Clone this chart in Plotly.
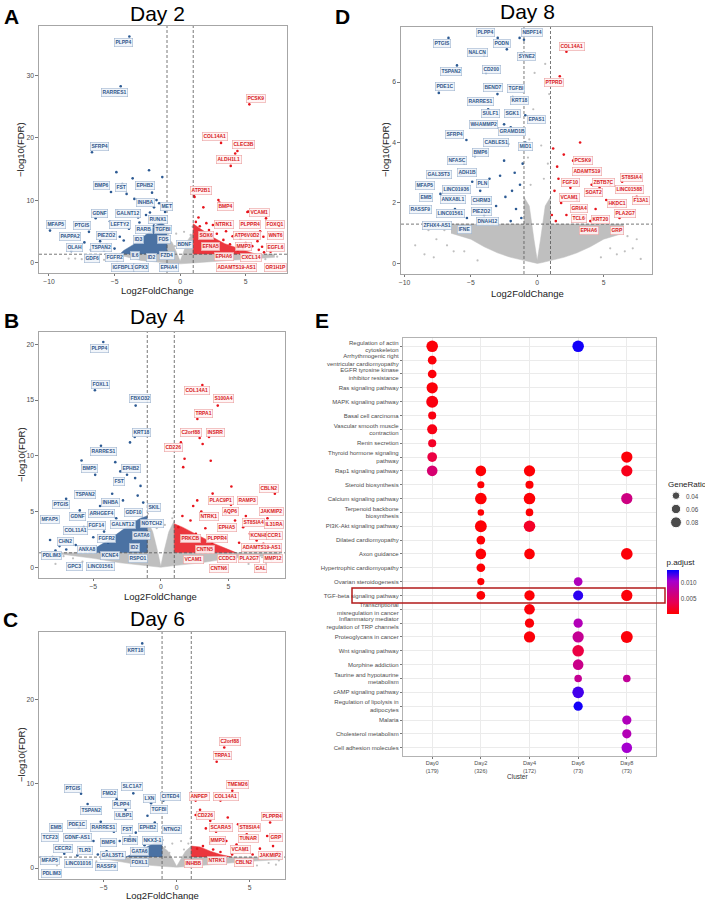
import plotly.graph_objects as go
import math

# ---------------- Panel A (Day 2) ----------------
A_dn_x = [-3.87,-4.53,-6.72,-4.86,-3.62,-2.37,-1.36,-2.14,-4.08,-4.41,-5.27,-3.49,-1.99,-4.79,-1.15,-9.92,-6.44,-5.35,-6.95,-3.1,-2.6,-1.6,-7.3,-6.1,-5.6,-5.0,-4.6,-3.9,-6.8,-8.3,-7.7,-5.8,-4.3,-3.2,-2.3,-1.8,-1.3,-2.0,-5.2]
A_dn_y = [36.3,28.3,17.7,14.5,13.5,14.8,13.7,11.2,11.0,12.6,11.3,10.2,8.84,8.3,8.1,5.1,7.1,6.6,4.9,6.4,7.6,9.5,3.2,3.4,2.8,2.2,4.1,5.4,2.0,1.8,2.5,1.9,3.5,7.2,8.0,10.0,6.9,5.9,4.8]
A_up_x = [5.28,3.12,4.37,4.2,3.86,1.06,1.1,2.92,3.0,1.77,5.13,5.2,6.55,5.69,6.35,6.25,6.9,1.2,1.5,2.5,3.5,4.0,4.6,5.0,5.5,6.0,6.4,3.8,4.8,2.8,2.2,1.4,3.3,4.4,5.9,6.1,2.0]
A_up_y = [25.4,19.2,17.9,17.5,15.5,10.66,10.5,10.0,9.6,8.84,8.1,8.15,7.07,4.66,4.12,2.5,1.7,6.5,5.8,6.0,5.0,4.2,3.8,3.1,2.6,2.0,1.6,2.9,2.2,4.6,5.2,7.2,3.6,1.9,3.4,5.0,6.3]
A_ns_x = [-8.0,-8.5,-7.5,-6.2,-5.4,7.4,-0.4,0.5,0.8,-0.8,-7.0,-6.5,-5.8,-5.0,-4.8,5.8,6.5,7.0,-3.8,4.5,-0.3,0.3,-0.9,0.95]
A_ns_y = [0.6,0.6,0.5,0.9,1.0,0.9,2.6,3.0,4.4,3.6,0.3,0.7,0.4,0.8,0.2,0.3,0.5,1.1,1.2,1.1,4.6,4.9,4.6,5.7]
A_grey_x = [-4.5,-3,-1,0,1,3,5,7.2,7.2,1,1,0.6,0.25,0,-0.25,-0.6,-1,-1,-4.5]
A_grey_y = [1.1,0.3,-0.1,-0.25,-0.1,0.2,0.5,0.8,1.3,1.3,4.8,3.6,1.6,0.2,1.5,3.2,4.0,1.3,1.3]
A_dncore_x = [-1,-1,-1.4,-1.9,-2.4,-3.0,-3.6,-4.3,-4.6]
A_dncore_y = [1.3,5.6,6.4,5.9,4.8,3.8,2.8,1.9,1.3]
A_upcore_x = [1,1,1.4,2.0,2.6,3.4,4.3,5.2,5.8]
A_upcore_y = [1.3,6.2,5.6,4.8,3.9,3.0,2.3,1.7,1.3]
A_dn_lab = ["PLPP4","RARRES1","SFRP4","BMP6","FST","EPHB2","INHBA","MET","GDNF","GALNT12","RUNX1","LEFTY2","MFAP5","PTGIS","PIEZO2","RARB","TGFBI","PAPPA2","ID3","FOS","OLAH","TSPAN2","BDNF","GDF6","FGFR2","IL6","ID2","FZD4","IGFBPL1","GPX3","EPHA4"]
A_dn_lab_x = [-4.28,-4.97,-6.16,-6.03,-4.53,-2.65,-2.63,-1.02,-6.11,-3.97,-1.71,-4.58,-9.47,-7.51,-5.65,-2.75,-1.28,-8.37,-3.19,-1.25,-8.09,-6.03,0.32,-6.72,-4.97,-3.44,-2.17,-0.97,-4.38,-2.96,-0.85]
A_dn_lab_y = [35.3,27.3,18.7,12.27,12.0,12.27,9.6,9.05,7.87,7.87,6.96,6.0,6.1,5.9,4.28,5.2,5.2,4.12,3.6,3.6,2.46,2.46,2.79,0.64,0.80,1.07,0.75,1.12,-0.91,-0.91,-0.91]
A_up_lab = ["PCSK9","COL14A1","CLEC3B","ALDH1L1","ATP2B1","BMP4","VCAM1","NTRK1","PLPPR4","FOXQ1","SOX6","ATP6V0D2","WNT6","EFNA5","MMP3","EGFL6","EPHA6","CXCL14","ADAMTS19-AS1","OR1H1P"]
A_up_lab_x = [5.79,2.69,4.85,3.70,1.59,3.45,6.04,3.37,5.33,7.26,1.95,5.08,7.26,2.33,4.80,7.26,3.35,5.38,4.31,7.26]
A_up_lab_y = [26.35,20.2,18.9,16.55,11.6,8.9,8.0,6.0,6.0,6.0,4.34,4.34,4.23,2.57,2.52,2.46,0.86,0.80,-0.91,-0.91]

# ---------------- Panel B (Day 4) ----------------
B_dn_x = [-4.26,-4.88,-1.86,-1.93,-2.28,-4.43,-5.87,-4.86,-3.37,-3.0,-2.5,-1.9,-1.71,-7.01,-8.2,-6.0,-5.2,-4.5,-3.6,-2.8,-1.5,-1.3,-6.6,-5.7,-5.0,-7.5,-7.0,-6.3,-4.2,-3.3,-2.3,-7.8,-5.5,-3.9]
B_dn_y = [20.2,15.87,14.5,11.68,11.2,10.9,9.58,8.29,9.43,8.6,8.3,8.0,6.43,6.14,2.45,5.1,4.7,5.5,6.6,6.0,7.3,5.8,3.3,3.6,2.7,1.9,1.6,2.0,3.2,4.4,5.0,1.5,1.8,2.2]
B_up_x = [3.08,4.22,2.71,1.49,2.88,3.1,3.57,1.76,3.7,1.66,5.23,8.45,3.84,2.7,2.4,3.0,4.0,4.8,5.5,6.1,6.6,7.1,5.8,4.5,3.3,2.2,1.6,1.3,2.6,3.8,6.9,7.6,5.2,6.3,7.9]
B_up_y = [16.35,14.5,13.3,11.2,11.6,11.05,11.68,9.73,9.55,8.98,7.24,6.59,6.61,6.0,5.5,5.0,4.4,4.8,4.2,3.6,3.0,2.4,2.2,2.8,3.5,4.2,4.6,3.6,3.0,2.2,1.9,2.1,5.6,4.6,4.4]
B_ns_x = [-6.5,-7.2,-5.8,7.5,8.2,-0.5,0.6,-0.8,0.85,-7.8,-6.8,-4.5,6.5,7.8,8.5,-0.3,0.3,-0.95,0.95,-8.3]
B_ns_y = [0.8,1.0,0.5,0.9,0.6,2.4,2.9,3.9,4.4,0.3,0.2,0.3,0.3,0.4,1.0,3.5,3.8,4.8,4.9,0.9]
B_grey_x = [-7.5,-5,-3,-1,0,1,3,5,8.8,8.8,1,1,0.6,0.25,0,-0.25,-0.6,-1,-1,-7.5]
B_grey_y = [1.2,0.8,0.4,0.15,0.0,0.15,0.4,0.8,1.1,1.3,1.3,4.2,3.2,1.5,0.1,1.5,3.2,4.2,1.3,1.3]
B_dncore_x = [-1,-1,-1.5,-2.2,-3.0,-3.8,-4.6,-5.4]
B_dncore_y = [1.3,4.6,4.4,3.9,3.2,2.5,1.9,1.3]
B_upcore_x = [1,1,1.6,2.4,3.2,4.0,4.8,5.6]
B_upcore_y = [1.3,3.9,3.6,3.1,2.6,2.1,1.7,1.3]
B_dn_lab = ["PLPP4","FOXL1","FBXO32","KRT18","RARRES1","BMP5","EPHB2","FST","TSPAN2","INHBA","PTGIS","SKIL","GDF10","GDNF","ARHGEF4","MFAP5","FGF14","GALNT12","NOTCH2","COL11A1","GATA6","FGFR2","CHN2","ID2","ANXA8","KCNE4","RSPO1","PDLIM3","GPC3","LINC01561"]
B_dn_lab_x = [-4.56,-4.43,-1.51,-1.46,-4.28,-5.28,-2.2,-3.12,-5.6,-3.72,-7.4,-0.47,-2.0,-6.17,-4.36,-8.2,-4.73,-2.8,-0.62,-6.32,-1.46,-4.04,-7.09,-1.93,-5.43,-3.74,-1.71,-8.07,-6.42,-4.43]
B_dn_lab_y = [19.6,16.35,15.1,12.13,10.42,8.86,8.86,7.66,6.5,5.8,5.62,5.39,4.9,4.6,4.85,4.25,3.71,3.8,3.95,3.29,2.84,2.57,2.3,1.82,1.64,1.08,0.81,1.02,0.05,0.05]
B_up_lab = ["COL14A1","S100A4","TRPA1","C2orf88","INSRR","CD226","CBLN2","PLAC9P1","RAMP3","AQP6","JAKMIP2","NTRK1","ST8SIA4","IL31RA","EPHA5","KCNH8","CCR1","PRKCB","PLPPR4","ADAMTS19-AS1","CNTN5","VCAM1","CCDC3","PLA2G7","MMP12","CNTN6","GAL"]
B_up_lab_x = [2.68,4.68,3.2,2.23,4.04,0.97,8.03,4.44,6.42,5.18,8.23,3.57,6.84,8.39,4.94,7.29,8.45,2.23,4.14,7.44,3.27,2.45,4.94,6.54,8.3,4.31,7.41]
B_up_lab_y = [15.84,15.1,13.8,12.07,12.13,10.75,7.04,5.96,5.96,5.0,5.0,4.58,4.01,3.8,3.56,2.84,2.81,2.57,2.57,1.82,1.64,0.68,0.81,0.81,0.81,-0.12,-0.12]

# ---------------- Panel C (Day 6) ----------------
C_dn_x = [-2.36,-6.55,-2.97,-4.11,-6.1,-1.75,-0.9,-3.5,-2.0,-5.2,-6.7,-4.3,-2.8,-1.5,-7.3,-5.7,-3.9,-3.2,-6.0,-7.7,-8.5,-4.8,-2.2,-3.0,-1.4,-5.4,-6.8]
C_dn_y = [26.65,8.82,8.86,8.15,7.6,7.7,8.0,6.9,6.2,5.5,4.8,4.3,4.2,5.4,3.8,3.2,3.2,3.7,2.4,1.7,1.3,2.0,2.7,2.3,3.6,1.6,1.5]
C_up_x = [3.26,2.74,3.81,1.3,3.0,1.6,1.3,2.3,3.5,4.2,6.4,2.0,2.7,4.8,5.3,6.2,6.6,3.4,4.1,2.3,1.8,5.7,4.6,3.0,6.9,5.2,2.5,1.4,3.8]
C_up_y = [14.3,12.6,9.17,8.0,8.0,6.9,6.3,5.6,6.0,5.2,5.4,4.7,4.3,4.0,3.5,3.8,2.6,3.2,2.8,3.0,2.6,2.3,2.0,1.9,1.8,1.6,2.2,2.3,1.6]
C_ns_x = [-5.5,-6.5,7.0,6.3,-0.5,0.5,-0.8,0.8,-7.5,-8.2,-4.2,5.5,6.8,-0.3,0.3,-0.95,0.95]
C_ns_y = [0.8,0.4,0.9,0.6,1.8,2.2,2.5,2.9,0.6,0.3,0.2,0.3,0.4,2.9,3.2,3.3,3.5]
C_grey_x = [-5,-3,-1,0,1,3,5,7.2,7.2,1,1,0.6,0.25,0,-0.25,-0.6,-1,-1,-5]
C_grey_y = [1.1,0.5,0.2,0.1,0.2,0.5,0.8,1.0,1.3,1.3,2.6,2.0,1.0,0.2,1.0,2.0,2.6,1.3,1.3]
C_dncore_x = [-1,-1,-1.5,-2.1,-2.8,-3.5]
C_dncore_y = [1.3,3.4,3.0,2.4,1.8,1.3]
C_upcore_x = [1,1,1.6,2.3,3.0,3.8]
C_upcore_y = [1.3,2.6,2.5,2.0,1.6,1.3]
C_dn_lab = ["KRT18","PTGIS","SLC1A7","FMO2","LXN","CITED4","PLPP4","TSPAN2","TGFBI","ULBP1","EMB","PDE1C","RARRES1","FST","EPHB2","NTNG2","TCF23","GDNF-AS1","BMP6","FIBIN","NKX3-1","CECR2","TLR3","GATA6","GAL3ST1","MFAP5","LINC01016","FOXL1","RASSF9","PDLIM3"]
C_dn_lab_x = [-2.79,-7.08,-3.04,-4.61,-1.83,-0.39,-3.77,-5.89,-1.23,-3.61,-8.29,-6.81,-4.98,-3.42,-1.95,-0.32,-8.68,-6.78,-4.64,-3.2,-1.67,-7.77,-6.26,-2.58,-4.34,-8.68,-6.71,-2.56,-4.79,-8.56]
C_dn_lab_y = [25.86,9.45,9.64,8.86,8.27,8.46,7.59,6.88,7.0,6.2,4.86,5.14,4.86,4.63,4.86,4.55,3.6,3.64,3.0,3.32,3.32,2.29,2.1,2.02,1.5,0.95,0.59,0.71,0.2,-0.63]
C_up_lab = ["C2orf88","TRPA1","TMEM26","ANPEP","COL14A1","CD226","PLPPR4","SCARA5","ST8SIA4","TUNAR","GRP","MMP3","VCAM1","JAKMIP2","INHBB","NTRK1","CBLN2"]
C_up_lab_x = [3.65,3.15,4.18,1.55,3.38,1.99,6.5,3.03,5.02,4.93,6.8,2.78,4.34,6.44,1.14,2.78,4.63]
C_up_lab_y = [14.98,13.3,9.88,8.54,8.46,6.2,6.09,4.78,4.82,3.56,3.64,3.24,2.25,1.54,0.56,0.95,0.71]

# ---------------- Panel D (Day 8) ----------------
D_dn_x = [-2.98,-1.33,-1.0,-6.69,-2.29,-4.0,-1.2,-6.05,-3.86,-7.42,-3.0,-1.85,-3.7,-2.1,-0.9,-2.5,-2.0,-5.34,-3.5,-2.2,-0.9,-5.5,-4.7,-5.8,-8.0,-7.3,-4.3,-3.6,-2.8,-1.7,-1.3,-2.4,-3.1,-1.6,-1.2,-4.0,-5.3,-6.2,-2.0,-3.5,-1.1,-2.5,-4.9,-1.9]
D_dn_y = [7.46,7.46,7.4,7.46,7.08,6.88,6.95,6.55,6.3,5.64,5.6,5.5,5.1,5.0,4.9,4.6,4.5,4.08,4.0,3.95,4.0,3.3,3.55,2.95,2.6,2.3,2.4,2.8,2.9,3.0,2.6,2.2,1.9,1.8,1.5,1.6,1.5,1.8,1.4,1.4,3.3,3.4,2.7,2.4]
D_up_x = [2.2,1.7,3.23,1.2,2.0,2.7,1.5,3.4,4.1,4.7,5.5,6.4,7.5,2.5,3.0,1.3,1.8,5.9,4.4,2.2,3.6,6.2,1.1,2.8,1.6,5.2,4.0,1.4]
D_up_y = [7.0,6.19,4.0,3.8,3.6,3.4,3.2,3.0,2.6,2.5,2.6,2.7,2.2,2.5,2.1,2.4,2.0,1.9,1.8,1.6,1.5,1.5,1.6,1.8,2.8,2.1,1.4,1.4]
D_ns_x = [-9.2,-8.5,-7.6,-7.0,-6.3,7.8,7.2,6.8,-0.5,0.5,-0.7,0.8,-0.3,0.9,-0.6,0.3,5.5,6.0,-5.5,-8.2,2.5,-2.5,-7.8,-6.8,-4.5,4.8,6.6,7.5,-0.2,0.6]
D_ns_y = [0.6,0.3,0.8,1.1,0.4,0.15,0.5,0.9,2.6,2.8,3.5,3.3,5.1,5.6,4.1,3.9,0.5,0.3,0.4,1.1,1.1,1.1,0.2,0.6,0.1,0.2,0.4,0.8,6.3,6.6]
D_grey_x = [-6.5,-5,-4,-3,-2,-1,-0.3,0,0.3,1,2,3,4,5,6.5,6.5,1,1,0.6,0.25,0,-0.25,-0.6,-1,-1,-6.5]
D_grey_y = [1.0,0.8,0.55,0.35,0.2,0.1,0.02,0.0,0.02,0.1,0.2,0.35,0.55,0.8,1.0,1.3,1.3,2.2,1.9,0.8,0.1,0.8,1.9,2.2,1.3,1.3]
D_dn_lab = ["PLPP4","NBPF14","PTGIS","PODN","NALCN","SYNE2","TSPAN2","CD200","PDE1C","BEND7","TGFBI","RARRES1","KRT18","SULF1","SGK1","EPAS1","WHAMMP2","GRAMD1B","SFRP4","CABLES1","MID1","BMP6","NFASC","ADH1B","GAL3ST3","MFAP5","LINC01936","PLN","EMB","ANXA8L1","CHRM3","RASSF9","LINC01561","PIEZO2","DNAH12","ZFHX4-AS1","IFNE"]
D_dn_lab_x = [-3.91,-0.38,-7.2,-2.63,-4.47,-0.78,-6.5,-3.44,-6.95,-3.34,-1.58,-4.31,-1.33,-3.53,-1.83,-0.08,-4.04,-1.91,-6.2,-3.08,-0.88,-4.29,-6.02,-5.32,-7.44,-8.45,-6.09,-4.09,-8.38,-6.35,-4.19,-8.8,-6.54,-4.17,-3.74,-7.55,-5.47]
D_dn_lab_y = [7.64,7.64,7.26,7.26,6.98,6.83,6.36,6.43,5.84,5.83,5.77,5.36,5.38,4.95,4.97,4.75,4.59,4.37,4.28,3.99,3.88,3.66,3.4,3.0,2.94,2.57,2.46,2.65,2.18,2.1,2.08,1.8,1.64,1.73,1.39,1.24,1.11]
D_up_lab = ["COL14A1","PTPRD","PCSK9","ADAMTS19","ST8SIA4","FGF10","ZBTB7C","LINC01588","SOAT2","VCAM1","F13A1","HKDC1","GRIA4","PLA2G7","TCL6","KRT20","EPHA6","GRP"]
D_up_lab_x = [2.63,1.23,3.43,3.73,7.07,2.53,5.0,6.94,4.26,2.45,7.82,6.02,3.13,6.64,3.13,4.74,3.88,5.98]
D_up_lab_y = [7.19,6.0,3.4,3.03,2.85,2.67,2.67,2.44,2.34,2.18,2.09,1.98,1.82,1.64,1.47,1.45,1.09,1.09]

# ---------------- Panel E (KEGG dot plot) ----------------
E_terms = ["Regulation of actin<br>cytoskeleton","Arrhythmogenic right<br>ventricular cardiomyopathy","EGFR tyrosine kinase<br>inhibitor resistance","Ras signaling pathway","MAPK signaling pathway","Basal cell carcinoma","Vascular smooth muscle<br>contraction","Renin secretion","Thyroid hormone signaling<br>pathway","Rap1 signaling pathway","Steroid biosynthesis","Calcium signaling pathway","Terpenoid backbone<br>biosynthesis","PI3K-Akt signaling pathway","Dilated cardiomyopathy","Axon guidance","Hypertrophic cardiomyopathy","Ovarian steroidogenesis","TGF-beta signaling pathway","Transcriptional<br>misregulation in cancer","Inflammatory mediator<br>regulation of TRP channels","Proteoglycans in cancer","Wnt signaling pathway","Morphine addiction","Taurine and hypotaurine<br>metabolism","cAMP signaling pathway","Regulation of lipolysis in<br>adipocytes","Malaria","Cholesterol metabolism","Cell adhesion molecules"]
E_clusters = ["Day0<br>(179)","Day2<br>(326)","Day4<br>(172)","Day6<br>(73)","Day8<br>(73)"]
E_term_idx = [0,0,1,2,3,4,5,6,7,8,8,9,9,9,9,10,10,11,11,11,12,12,13,13,14,15,15,15,16,17,17,18,18,18,18,19,20,20,21,21,21,22,23,24,24,25,26,27,28,29]
E_clu_idx  = [0,3,0,0,0,0,0,0,0,0,4,0,1,2,4,1,2,1,2,4,1,2,1,2,1,1,2,4,1,1,3,1,2,3,4,2,2,3,2,3,4,3,3,3,4,3,3,4,4,4]
E_ratio = [0.089,0.089,0.052,0.052,0.085,0.095,0.045,0.068,0.045,0.064,0.085,0.076,0.076,0.085,0.085,0.036,0.045,0.090,0.090,0.085,0.030,0.040,0.093,0.089,0.052,0.076,0.076,0.090,0.052,0.036,0.052,0.052,0.072,0.068,0.085,0.076,0.058,0.058,0.085,0.085,0.095,0.090,0.076,0.040,0.040,0.090,0.058,0.058,0.058,0.076]
E_padj = [0.0005,0.0135,0.0005,0.0005,0.0005,0.0008,0.0008,0.0010,0.0018,0.0030,0.0005,0.0055,0.0003,0.0003,0.0012,0.0003,0.0003,0.0003,0.0003,0.0065,0.0003,0.0003,0.0003,0.0018,0.0003,0.0003,0.0003,0.0005,0.0003,0.0003,0.0095,0.0003,0.0003,0.0130,0.0005,0.0005,0.0005,0.0093,0.0005,0.0075,0.0005,0.0030,0.0070,0.0075,0.0078,0.0125,0.0135,0.0095,0.0092,0.0105]
E_size_breaks = [0.04,0.06,0.08]

# ---------------- styling ----------------
W, H = 705, 900
def px(x):
    return x / W
def py(y):
    return 1 - y / H

BLUE = "#2c5a93"
RED = "#e8141c"
GREY = "#bfbfbf"
FONT = "Liberation Sans, Arial, sans-serif"

fig = go.Figure()

panels = [
    dict(ax="", dom_x=(39, 287), dom_y=(26, 273), xr=[-10.76, 8.15], yr=[-1.72, 38.0], xt=[-10, -5, 0, 5], yt=[0, 10, 20, 30],
         xtitle=(157, 291), ytitle=(21, 150),
         dn=(A_dn_x, A_dn_y), up=(A_up_x, A_up_y), ns=(A_ns_x, A_ns_y), grey=(A_grey_x, A_grey_y),
         dncore=(A_dncore_x, A_dncore_y), upcore=(A_upcore_x, A_upcore_y),
         dnlab=(A_dn_lab, A_dn_lab_x, A_dn_lab_y), uplab=(A_up_lab, A_up_lab_x, A_up_lab_y)),
    dict(ax="2", dom_x=(39, 285), dom_y=(332, 578), xr=[-9.02, 9.2], yr=[-0.96, 21.1], xt=[-5, 0, 5], yt=[0, 5, 10, 15, 20],
         xtitle=(160, 596), ytitle=(21, 455),
         dn=(B_dn_x, B_dn_y), up=(B_up_x, B_up_y), ns=(B_ns_x, B_ns_y), grey=(B_grey_x, B_grey_y),
         dncore=(B_dncore_x, B_dncore_y), upcore=(B_upcore_x, B_upcore_y),
         dnlab=(B_dn_lab, B_dn_lab_x, B_dn_lab_y), uplab=(B_up_lab, B_up_lab_x, B_up_lab_y)),
    dict(ax="3", dom_x=(39, 285), dom_y=(632, 879), xr=[-9.43, 7.42], yr=[-1.3, 28.0], xt=[-5, 0, 5], yt=[0, 10, 20],
         xtitle=(162, 895), ytitle=(21, 755),
         dn=(C_dn_x, C_dn_y), up=(C_up_x, C_up_y), ns=(C_ns_x, C_ns_y), grey=(C_grey_x, C_grey_y),
         dncore=(C_dncore_x, C_dncore_y), upcore=(C_upcore_x, C_upcore_y),
         dnlab=(C_dn_lab, C_dn_lab_x, C_dn_lab_y), uplab=(C_up_lab, C_up_lab_x, C_up_lab_y)),
    dict(ax="4", dom_x=(401, 652), dom_y=(27, 274), xr=[-10.27, 8.65], yr=[-0.35, 7.82], xt=[-10, -5, 0, 5], yt=[0, 2, 4, 6],
         xtitle=(527, 293), ytitle=(386, 150),
         dn=(D_dn_x, D_dn_y), up=(D_up_x, D_up_y), ns=(D_ns_x, D_ns_y), grey=(D_grey_x, D_grey_y),
         dncore=None, upcore=None,
         dnlab=(D_dn_lab, D_dn_lab_x, D_dn_lab_y), uplab=(D_up_lab, D_up_lab_x, D_up_lab_y)),
]

annotations = []
shapes = []
layout_axes = {}

for p in panels:
    xa = "x" + p["ax"]
    ya = "y" + p["ax"]
    fig.add_trace(go.Scatter(x=p["grey"][0], y=p["grey"][1], mode="lines", fill="toself",
                             fillcolor=GREY, line=dict(width=0.5, color=GREY), xaxis=xa, yaxis=ya,
                             hoverinfo="skip", showlegend=False))
    fig.add_trace(go.Scatter(x=p["ns"][0], y=p["ns"][1], mode="markers",
                             marker=dict(size=2.2, color=GREY), xaxis=xa, yaxis=ya, showlegend=False))
    if p["dncore"]:
        fig.add_trace(go.Scatter(x=p["dncore"][0], y=p["dncore"][1], mode="lines", fill="toself",
                                 fillcolor=BLUE, line=dict(width=0.5, color=BLUE), xaxis=xa, yaxis=ya,
                                 opacity=0.85, hoverinfo="skip", showlegend=False))
        fig.add_trace(go.Scatter(x=p["upcore"][0], y=p["upcore"][1], mode="lines", fill="toself",
                                 fillcolor=RED, line=dict(width=0.5, color=RED), xaxis=xa, yaxis=ya,
                                 opacity=0.85, hoverinfo="skip", showlegend=False))
    fig.add_trace(go.Scatter(x=p["dn"][0], y=p["dn"][1], mode="markers",
                             marker=dict(size=2.6, color=BLUE), xaxis=xa, yaxis=ya, showlegend=False))
    fig.add_trace(go.Scatter(x=p["up"][0], y=p["up"][1], mode="markers",
                             marker=dict(size=2.6, color=RED), xaxis=xa, yaxis=ya, showlegend=False))
    for xv in (-1, 1):
        shapes.append(dict(type="line", xref=xa, yref=ya + " domain", x0=xv, x1=xv, y0=0, y1=1,
                           line=dict(color="#555555", width=0.8, dash="3px,2px")))
    shapes.append(dict(type="line", xref=xa + " domain", yref=ya, x0=0, x1=1, y0=1.3, y1=1.3,
                       line=dict(color="#555555", width=0.8, dash="3px,2px")))
    for names, xs, ys, col, bg, bc in ((p["dnlab"][0], p["dnlab"][1], p["dnlab"][2], "#30578a", "rgba(240,244,250,0.9)", "#9fb4cf"),
                                        (p["uplab"][0], p["uplab"][1], p["uplab"][2], "#d7191c", "rgba(255,244,244,0.9)", "#eba0a0")):
        for n, xv, yv in zip(names, xs, ys):
            annotations.append(dict(x=xv, y=yv, xref=xa, yref=ya, text="<b>" + n + "</b>", showarrow=False,
                                    font=dict(size=5, color=col, family=FONT), bgcolor=bg, bordercolor=bc,
                                    borderwidth=0.6, borderpad=0.8))
    annotations.append(dict(x=px(p["xtitle"][0]), y=py(p["xtitle"][1]), xref="paper", yref="paper",
                            text="Log2FoldChange", showarrow=False, xanchor="center", yanchor="middle",
                            font=dict(size=9.5, color="#222", family=FONT)))
    annotations.append(dict(x=px(p["ytitle"][0]), y=py(p["ytitle"][1]), xref="paper", yref="paper",
                            text="−log10(FDR)", showarrow=False, textangle=-90, xanchor="center", yanchor="middle",
                            font=dict(size=9.5, color="#222", family=FONT)))
    dx = (px(p["dom_x"][0]), px(p["dom_x"][1]))
    dy = (py(p["dom_y"][1]), py(p["dom_y"][0]))
    layout_axes["xaxis" + p["ax"]] = dict(domain=dx, range=p["xr"], tickvals=p["xt"],
                                          ticktext=[("−" + str(-t)) if t < 0 else str(t) for t in p["xt"]],
                                          anchor=ya, showgrid=False, zeroline=False, showline=True, mirror=True,
                                          linecolor="#a6a6a6", linewidth=1.3, ticks="outside", ticklen=2, tickcolor="#777",
                                          automargin=False, tickfont=dict(size=6.8, color="#4d4d4d", family=FONT))
    layout_axes["yaxis" + p["ax"]] = dict(domain=dy, range=p["yr"], tickvals=p["yt"], anchor=xa,
                                          showgrid=False, zeroline=False, showline=True, mirror=True,
                                          linecolor="#a6a6a6", linewidth=1.3, ticks="outside", ticklen=2.5, tickcolor="#777",
                                          automargin=False, tickfont=dict(size=6.8, color="#4d4d4d", family=FONT))

# ---------------- Panel E ----------------
def dot_diam(r):
    return 7.6 + 40.0 * (math.sqrt(r) - 0.2)

fig.add_trace(go.Scatter(
    x=[E_clusters[i] for i in E_clu_idx], y=[E_terms[i] for i in E_term_idx], mode="markers",
    xaxis="x5", yaxis="y5", showlegend=False,
    marker=dict(size=[dot_diam(r) for r in E_ratio], color=E_padj, cmin=0.0001, cmax=0.0139,
                colorscale=[[0, "#FF0000"], [0.25, "#E80050"], [0.5, "#C90089"], [0.75, "#A600CE"], [1, "#0000FF"]],
                line=dict(width=0), opacity=1,
                colorbar=dict(x=px(666.5), xanchor="left", xpad=0, ypad=0, y=py(585), yanchor="middle",
                              len=58, lenmode="pixels", thickness=12, outlinewidth=0,
                              tickvals=[0.005, 0.010], ticktext=["0.005", "0.010"],
                              ticks="", tickfont=dict(size=6.3, color="#4d4d4d", family=FONT),
                              title=dict(text="p.adjust", side="top", font=dict(size=8, color="#222", family=FONT))))))

layout_axes["xaxis5"] = dict(domain=(px(403), px(656)), anchor="y5", type="category", categoryorder="array",
                             categoryarray=E_clusters, range=[-0.6, 4.6], showgrid=True, gridcolor="#ebebeb", gridwidth=0.8,
                             zeroline=False, showline=True, mirror=True, linecolor="#b3b3b3", linewidth=1.2, automargin=False,
                             ticks="outside", ticklen=1.5, tickcolor="#777", tickfont=dict(size=5.6, color="#4d4d4d", family=FONT))
layout_axes["yaxis5"] = dict(domain=(py(756), py(338)), anchor="x5", type="category", categoryorder="array",
                             categoryarray=E_terms, range=[29.6, -0.6], showgrid=True, gridcolor="#ebebeb", gridwidth=0.8,
                             zeroline=False, showline=True, mirror=True, linecolor="#b3b3b3", linewidth=1.2, automargin=False,
                             ticks="outside", ticklen=2, tickcolor="#777", tickfont=dict(size=6.0, color="#4d4d4d", family=FONT))
annotations.append(dict(x=px(530), y=py(782), xref="paper", yref="paper", text="Cluster", showarrow=False,
                        font=dict(size=6.5, color="#333", family=FONT)))

fig.add_trace(go.Scatter(x=[0, 0, 0], y=[0, 1, 2], mode="markers", xaxis="x6", yaxis="y6", showlegend=False,
                         marker=dict(size=[dot_diam(r) for r in E_size_breaks], color="black")))
layout_axes["xaxis6"] = dict(domain=(px(670), px(682)), anchor="y6", range=[-1, 1], visible=False, automargin=False)
layout_axes["yaxis6"] = dict(domain=(py(529), py(489)), anchor="x6", range=[2.5, -0.5], visible=False, automargin=False)
for i, b in enumerate(E_size_breaks):
    annotations.append(dict(x=px(684), y=py(496 + 13.35 * i), xref="paper", yref="paper", xanchor="left",
                            text="%.2f" % b, showarrow=False, font=dict(size=6.3, color="#4d4d4d", family=FONT)))
annotations.append(dict(x=px(666), y=py(484), xref="paper", yref="paper", xanchor="left", text="GeneRatio",
                        showarrow=False, font=dict(size=8, color="#222", family=FONT)))

shapes.append(dict(type="rect", xref="paper", yref="paper", x0=px(352), x1=px(665), y0=py(603), y1=py(588),
                   line=dict(color="#b31b1b", width=1.5)))

for t, x, y in (("Day 2", 157, 13), ("Day 4", 157, 316), ("Day 6", 157, 618), ("Day 8", 527, 12)):
    annotations.append(dict(x=px(x), y=py(y), xref="paper", yref="paper", text=t, showarrow=False,
                            xanchor="center", yanchor="middle", font=dict(size=21, color="black", family=FONT)))
for t, x, y in (("A", 11, 17), ("B", 11, 320), ("C", 10, 619), ("D", 342, 17), ("E", 322, 320)):
    annotations.append(dict(x=px(x), y=py(y), xref="paper", yref="paper", text="<b>" + t + "</b>", showarrow=False,
                            xanchor="center", yanchor="middle", font=dict(size=21, color="black", family=FONT)))

fig.update_layout(template="none", width=W, height=H, margin=dict(l=0, r=0, t=0, b=0, autoexpand=False),
                  plot_bgcolor="white", paper_bgcolor="white", showlegend=False,
                  annotations=annotations, shapes=shapes, **layout_axes)

fig.write_html("out.html", config={"displayModeBar": False},
               post_script="document.body.style.margin='0';document.body.style.padding='0';document.body.style.overflow='hidden';")
